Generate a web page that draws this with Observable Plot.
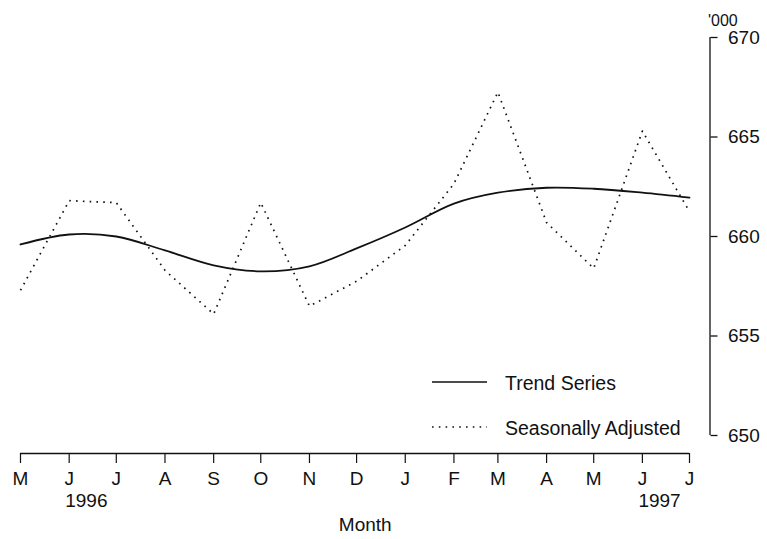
<!DOCTYPE html>
<html>
<head>
<meta charset="utf-8">
<script src="https://cdn.jsdelivr.net/npm/d3@7"></script>
<script src="https://cdn.jsdelivr.net/npm/@observablehq/plot@0.6"></script>
<style>
  html, body { margin: 0; padding: 0; background: #fff; }
  #chart { width: 767px; height: 539px; }
</style>
</head>
<body>
<div id="chart"></div>
<script>
const months = ["1996-05","1996-06","1996-07","1996-08","1996-09","1996-10","1996-11","1996-12","1997-01","1997-02","1997-03","1997-04","1997-05","1997-06","1997-07"];
const trendSeries = [659.6, 660.1, 660.0, 659.3, 658.55, 658.25, 658.5, 659.4, 660.45, 661.65, 662.2, 662.45, 662.4, 662.2, 661.95];
const seasonallyAdjusted = [657.3, 661.8, 661.7, 658.3, 656.1, 661.7, 656.5, 657.75, 659.55, 662.65, 667.25, 660.7, 658.4, 665.3, 661.25];
const yTicks = [650, 655, 660, 665, 670];
const monthLetters = ["J","F","M","A","M","J","J","A","S","O","N","D"];
const yearLabels = [{month: "1996-06", label: "1996"}, {month: "1997-06", label: "1997"}];
const xTitle = "Month";
const yUnit = "'000";
const legendItems = [{name: "Trend Series", dash: null}, {name: "Seasonally Adjusted", dash: "1.6,5.2"}];

const parse = s => new Date(s + "-01T00:00:00Z");
const dates = months.map(parse);
const trendData = dates.map((d, i) => ({date: d, value: trendSeries[i]}));
const saData = dates.map((d, i) => ({date: d, value: seasonallyAdjusted[i]}));
const yearData = yearLabels.map(d => ({date: parse(d.month), label: d.label}));

const W = 767, H = 539;
const xLeft = 20, xRight = 689, frameRight = 709.5;
const font = "'Liberation Sans', Arial, Helvetica, sans-serif";

const chart = Plot.plot({
  width: W,
  height: H,
  marginLeft: xLeft,
  marginRight: W - frameRight,
  marginTop: 37,
  marginBottom: H - 453,
  style: {fontFamily: font, fontSize: "19px", color: "#111", background: "#fff", overflow: "visible"},
  x: {type: "utc", domain: [dates[0], dates[dates.length - 1]], range: [xLeft, xRight]},
  y: {domain: [650, 670], range: [435, 37]},
  marks: [
    // y axis on the right
    Plot.ruleX([dates[dates.length - 1]], {y1: 650, y2: 670, dx: frameRight - xRight, stroke: "#111", strokeWidth: 1.3}),
    Plot.axisY({anchor: "right", ticks: yTicks, tickSize: 7, tickPadding: 11, tickFormat: d => String(d), label: null, stroke: "#111", strokeWidth: 1.3, fontSize: 19}),
    Plot.text([yUnit], {frameAnchor: "top-right", textAnchor: "start", dx: -2, dy: -23, fontSize: 16}),
    // x axis
    Plot.ruleY([650], {x1: dates[0], x2: dates[dates.length - 1], dy: 18, stroke: "#111", strokeWidth: 1.5}),
    Plot.axisX({ticks: dates, tickSize: 10, tickPadding: 8, tickFormat: d => monthLetters[d.getUTCMonth()], label: null, stroke: "#111", strokeWidth: 1.2, fontSize: 19}),
    Plot.text(yearData, {x: "date", text: "label", frameAnchor: "bottom", textAnchor: "start", dx: -4, dy: 47, lineAnchor: "middle", fontSize: 19}),
    Plot.text([xTitle], {frameAnchor: "bottom", dy: 71, lineAnchor: "middle", fontSize: 19}),
    // series
    Plot.line(saData, {x: "date", y: "value", stroke: "#111", strokeWidth: 1.7, strokeDasharray: "1.6,5.2", strokeLinecap: "butt"}),
    Plot.line(trendData, {x: "date", y: "value", stroke: "#111", strokeWidth: 1.8, curve: "catmull-rom"})
  ]
});

// legend drawn inside the plot area
const svg = d3.select(chart);
const lg = svg.append("g").attr("font-family", font).attr("font-size", 19.5).attr("fill", "#111").attr("text-anchor", "start");
legendItems.forEach((item, i) => {
  const y = 382 + i * 45;
  lg.append("line").attr("x1", 432).attr("x2", 487).attr("y1", y).attr("y2", y)
    .attr("stroke", "#111").attr("stroke-width", item.dash ? 1.7 : 1.5)
    .attr("stroke-dasharray", item.dash);
  lg.append("text").attr("x", 505).attr("y", y + 1).attr("dy", "0.35em").attr("text-anchor", "start").text(item.name);
});

document.getElementById("chart").appendChild(chart);
</script>
</body>
</html>
